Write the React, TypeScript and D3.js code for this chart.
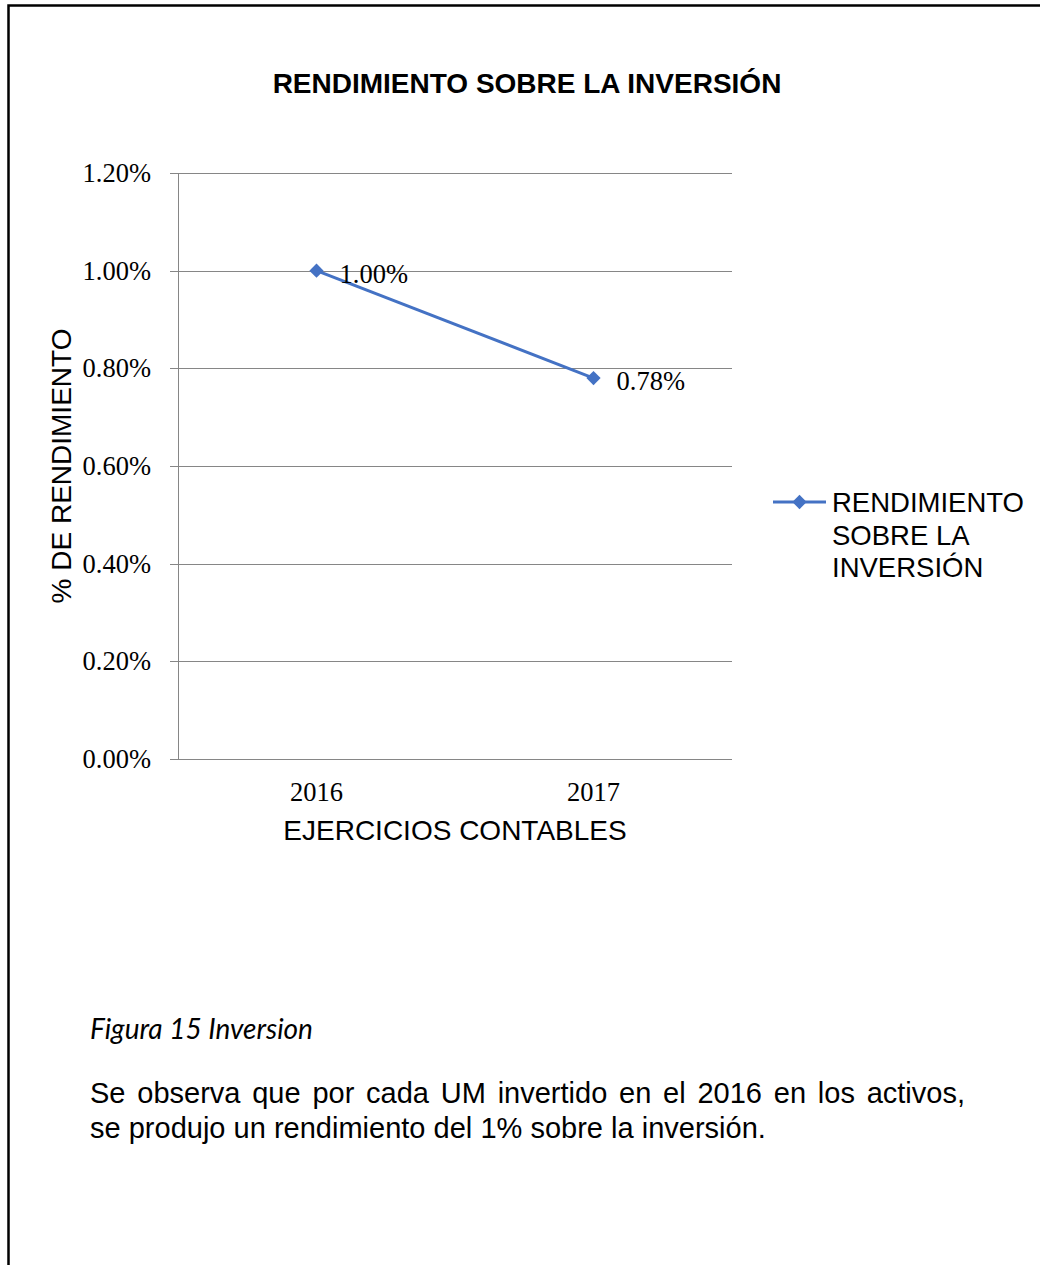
import React, { useEffect, useRef } from "react";
import * as d3 from "d3";

const categories = ["2016", "2017"];
const values = [0.01, 0.0078];
const dataLabels = ["1.00%", "0.78%"];
const yTicks = [0, 0.002, 0.004, 0.006, 0.008, 0.01, 0.012];
const title = "RENDIMIENTO SOBRE LA INVERSIÓN";
const yTitle = "% DE RENDIMIENTO";
const xTitle = "EJERCICIOS CONTABLES";
const legendLines = ["RENDIMIENTO", "SOBRE LA", "INVERSIÓN"];
const caption = "Figura 15 Inversion";
const bodyLines = [
  "Se observa que por cada UM invertido en el 2016 en los activos,",
  "se produjo un rendimiento del 1% sobre la inversión.",
];

const W = 1040;
const H = 1265;
const SANS = "'Liberation Sans', Arial, sans-serif";
const SERIF = "'Liberation Serif', 'Times New Roman', serif";
const BLUE = "#4472C4";

export default function App() {
  const ref = useRef<SVGSVGElement | null>(null);

  useEffect(() => {
    const svg = d3.select(ref.current);
    svg.selectAll("*").remove();

    // page border (top and left)
    svg
      .append("path")
      .attr("d", `M8.5,${H} L8.5,5.5 L${W},5.5`)
      .attr("fill", "none")
      .attr("stroke", "#000")
      .attr("stroke-width", 2.5);

    const left = 178,
      right = 732,
      top = 173,
      bottom = 759;

    const x = d3.scaleBand<string>().domain(categories).range([left, right]);
    const y = d3.scaleLinear().domain([0, 0.012]).range([bottom, top]);
    const fmt = d3.format(".2%");

    // title
    svg
      .append("text")
      .attr("x", 527)
      .attr("y", 93)
      .attr("text-anchor", "middle")
      .attr("font-family", SANS)
      .attr("font-weight", "bold")
      .attr("font-size", 28)
      .text(title);

    // gridlines + ticks
    const g = svg.append("g");
    g.selectAll("line.grid")
      .data(yTicks)
      .join("line")
      .attr("x1", left - 8)
      .attr("x2", right)
      .attr("y1", (d) => Math.round(y(d)) + 0.5)
      .attr("y2", (d) => Math.round(y(d)) + 0.5)
      .attr("stroke", "#868686")
      .attr("stroke-width", 1);
    g.append("line")
      .attr("x1", left + 0.5)
      .attr("x2", left + 0.5)
      .attr("y1", top)
      .attr("y2", bottom + 0.5)
      .attr("stroke", "#868686");

    g.selectAll("text.ytick")
      .data(yTicks)
      .join("text")
      .attr("x", 151)
      .attr("y", (d) => y(d) + 9)
      .attr("text-anchor", "end")
      .attr("font-family", SERIF)
      .attr("font-size", 26.5)
      .text((d) => fmt(d));

    g.selectAll("text.xtick")
      .data(categories)
      .join("text")
      .attr("x", (d) => (x(d) as number) + x.bandwidth() / 2)
      .attr("y", 801)
      .attr("text-anchor", "middle")
      .attr("font-family", SERIF)
      .attr("font-size", 26.5)
      .text((d) => d);

    // axis titles
    svg
      .append("text")
      .attr("x", 455)
      .attr("y", 840)
      .attr("text-anchor", "middle")
      .attr("font-family", SANS)
      .attr("font-size", 28)
      .text(xTitle);
    svg
      .append("text")
      .attr("transform", `translate(71,${(top + bottom) / 2}) rotate(-90)`)
      .attr("text-anchor", "middle")
      .attr("font-family", SANS)
      .attr("font-size", 28)
      .text(yTitle);

    // line
    const pts = categories.map((c, i) => ({
      x: (x(c) as number) + x.bandwidth() / 2,
      y: y(values[i]),
      label: dataLabels[i],
    }));
    svg
      .append("path")
      .attr(
        "d",
        d3
          .line<{ x: number; y: number }>()
          .x((d) => d.x)
          .y((d) => d.y)(pts) as string
      )
      .attr("fill", "none")
      .attr("stroke", BLUE)
      .attr("stroke-width", 3);
    const diamond = d3.symbol().type(d3.symbolDiamond2).size(130);
    svg
      .selectAll("path.mk")
      .data(pts)
      .join("path")
      .attr("transform", (d) => `translate(${d.x},${d.y})`)
      .attr("d", diamond() as string)
      .attr("fill", BLUE);
    svg
      .selectAll("text.lbl")
      .data(pts)
      .join("text")
      .attr("x", (d) => d.x + 23)
      .attr("y", (d) => d.y + 12)
      .attr("font-family", SERIF)
      .attr("font-size", 26.5)
      .text((d) => d.label);

    // legend
    svg
      .append("line")
      .attr("x1", 773)
      .attr("x2", 826)
      .attr("y1", 502)
      .attr("y2", 502)
      .attr("stroke", BLUE)
      .attr("stroke-width", 3);
    svg
      .append("path")
      .attr("transform", "translate(799.5,502)")
      .attr("d", diamond() as string)
      .attr("fill", BLUE);
    svg
      .selectAll("text.leg")
      .data(legendLines)
      .join("text")
      .attr("x", 832)
      .attr("y", (_d, i) => 512 + i * 32.5)
      .attr("font-family", SANS)
      .attr("font-size", 27.5)
      .text((d) => d);

    // caption
    svg
      .append("text")
      .attr("x", 90)
      .attr("y", 1039)
      .attr("font-family", "Lato, 'Open Sans', sans-serif")
      .attr("font-style", "italic")
      .attr("font-size", 28)
      .text(caption);

    // body text (first line justified)
    bodyLines.forEach((line, li) => {
      const yy = 1103 + li * 35;
      const words = line.split(" ");
      const tg = svg.append("g");
      const nodes = words.map((w) =>
        tg
          .append("text")
          .attr("y", yy)
          .attr("font-family", SANS)
          .attr("font-size", 29)
          .attr("fill", "#000")
          .text(w)
      );
      const widths = nodes.map((n) => (n.node() as SVGTextElement).getComputedTextLength());
      const total = d3.sum(widths);
      const justify = li === 0;
      const gap = justify ? (965 - 90 - total) / (words.length - 1) : 8.1;
      let cx = 90;
      nodes.forEach((n, i) => {
        n.attr("x", cx);
        cx += widths[i] + gap;
      });
    });
  }, []);

  return (
    <svg
      ref={ref}
      width={W}
      height={H}
      style={{ position: "absolute", left: 0, top: 0, background: "#fff" }}
    />
  );
}
